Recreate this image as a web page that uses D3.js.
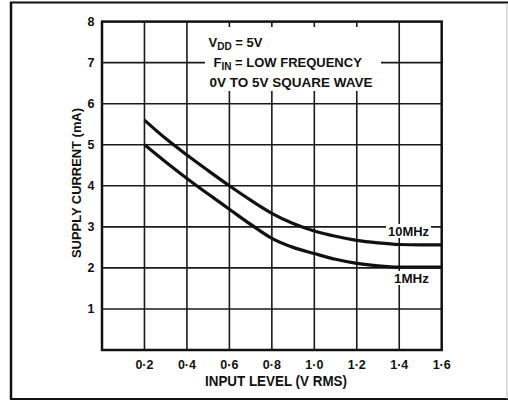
<!DOCTYPE html>
<html><head><meta charset="utf-8">
<script src="https://cdn.jsdelivr.net/npm/d3@7"></script>
<style>
html,body{margin:0;padding:0;background:#fff;}
svg{display:block;}
text{font-family:"Liberation Sans",Arial,Helvetica,sans-serif;font-weight:bold;fill:#111;}
</style></head>
<body>
<script>
const xTicks = [0.2,0.4,0.6,0.8,1.0,1.2,1.4,1.6];
const xTickLabels = ["0·2","0·4","0·6","0·8","1·0","1·2","1·4","1·6"];
const yTicks = [1,2,3,4,5,6,7,8];
const xInput = [0.2,0.3,0.4,0.5,0.6,0.7,0.8,0.9,1.0,1.1,1.2,1.3,1.4,1.5,1.6];
const current10MHz = [5.6,5.15,4.75,4.37,4.0,3.65,3.33,3.08,2.9,2.77,2.67,2.61,2.57,2.56,2.56];
const current1MHz  = [5.0,4.58,4.18,3.8,3.43,3.06,2.72,2.5,2.35,2.21,2.11,2.05,2.02,2.02,2.02];
const seriesNames = ["10MHz","1MHz"];
const xTitle = "INPUT LEVEL (V RMS)";
const yTitle = "SUPPLY CURRENT (mA)";

const W = 508, H = 401;
const svg = d3.select("body").append("svg").attr("width",W).attr("height",H);

const x = d3.scaleLinear().domain([0,1.6]).range([102,441.7]);
const y = d3.scaleLinear().domain([0,8]).range([350,21.6]);

// outer frame
svg.append("line").attr("x1",10).attr("x2",508).attr("y1",2.5).attr("y2",2.5).attr("stroke","#111").attr("stroke-width",2);
svg.append("line").attr("x1",11).attr("x2",11).attr("y1",2).attr("y2",399.5).attr("stroke","#111").attr("stroke-width",2.5);
svg.append("line").attr("x1",10).attr("x2",508).attr("y1",399).attr("y2",399).attr("stroke","#111").attr("stroke-width",2);
svg.append("line").attr("x1",507).attr("x2",507).attr("y1",3).attr("y2",399).attr("stroke","#bbb").attr("stroke-width",1);

// gridlines
const g = svg.append("g");
g.selectAll(".vg").data(xTicks.slice(0,-1)).join("line")
  .attr("x1",d=>x(d)).attr("x2",d=>x(d)).attr("y1",y(8)).attr("y2",y(0))
  .attr("stroke","#1a1a1a").attr("stroke-width",1.6);
g.selectAll(".hg").data(yTicks.slice(0,-1)).join("line")
  .attr("x1",x(0)).attr("x2",x(1.6)).attr("y1",d=>y(d)).attr("y2",d=>y(d))
  .attr("stroke","#1a1a1a").attr("stroke-width",1.6);

// plot border
svg.append("rect").attr("x",x(0)).attr("y",y(8)).attr("width",x(1.6)-x(0)).attr("height",y(0)-y(8))
  .attr("fill","none").attr("stroke","#111").attr("stroke-width",2.5);

// annotation box
svg.append("rect").attr("x",205).attr("y",27).attr("width",176).attr("height",64).attr("fill","#fff");
const t1 = svg.append("text").attr("x",208.5).attr("y",46.5).attr("font-size",13);
t1.append("tspan").text("V");
t1.append("tspan").attr("font-size",10).attr("dy",3).text("DD");
t1.append("tspan").attr("dy",-3).text(" = 5V");
const t2 = svg.append("text").attr("x",213.5).attr("y",66.5).attr("font-size",13);
t2.append("tspan").text("F");
t2.append("tspan").attr("font-size",10).attr("dy",3).text("IN");
t2.append("tspan").attr("dy",-3).text(" = LOW FREQUENCY");
svg.append("text").attr("x",209.5).attr("y",87).attr("font-size",13)
  .attr("textLength",163).attr("lengthAdjust","spacingAndGlyphs").text("0V TO 5V SQUARE WAVE");

// curves
const line = d3.line().x(d=>x(d[0])).y(d=>y(d[1])).curve(d3.curveMonotoneX);
[current10MHz,current1MHz].forEach(vals=>{
  svg.append("path").datum(xInput.map((v,i)=>[v,vals[i]])).attr("d",line)
    .attr("fill","none").attr("stroke","#111").attr("stroke-width",3.2);
});

// series labels with white background
const labelPos = [{yy:236,x0:388,w:41},{yy:283,x0:394,w:35}];
seriesNames.forEach((s,i)=>{
  svg.append("rect").attr("x",labelPos[i].x0-2).attr("y",labelPos[i].yy-12).attr("width",labelPos[i].w+4).attr("height",14).attr("fill","#fff");
  svg.append("text").attr("x",429).attr("y",labelPos[i].yy).attr("text-anchor","end").attr("font-size",13)
    .attr("textLength",labelPos[i].w).attr("lengthAdjust","spacingAndGlyphs").text(s);
});

// y tick labels
svg.selectAll(".yl").data(yTicks).join("text")
  .attr("x",94.5).attr("y",d=>y(d)).attr("dy","0.36em").attr("text-anchor","end").attr("font-size",12.5).text(d=>d);
// x tick labels
svg.selectAll(".xl").data(xTicks).join("text")
  .attr("x",d=>x(d)).attr("y",368.5).attr("text-anchor","middle").attr("font-size",12.5)
  .text((d,i)=>xTickLabels[i]);

// axis titles
svg.append("text").attr("x",276).attr("y",385.5).attr("text-anchor","middle").attr("font-size",14)
  .attr("textLength",142).attr("lengthAdjust","spacingAndGlyphs").text(xTitle);
svg.append("text").attr("transform","translate(81,183) rotate(-90)").attr("text-anchor","middle").attr("font-size",13.5)
  .attr("textLength",150).attr("lengthAdjust","spacingAndGlyphs").text(yTitle);
</script>
</body></html>
